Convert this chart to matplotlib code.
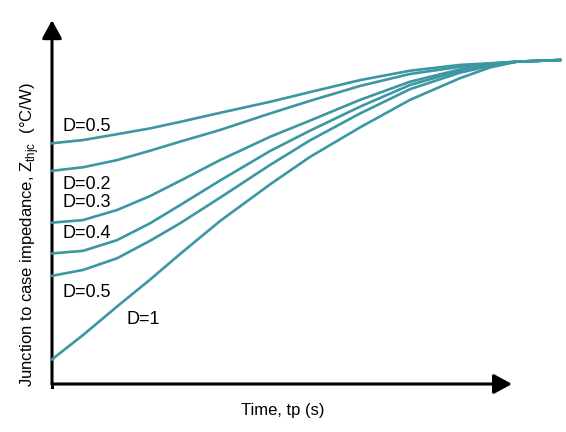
import matplotlib
matplotlib.use("Agg")
import matplotlib.pyplot as plt
from matplotlib.patches import FancyArrowPatch

plt.rcParams['font.family'] = ['Liberation Sans Narrow', 'Liberation Sans', 'DejaVu Sans']
plt.rcParams['mathtext.fontset'] = 'custom'
plt.rcParams['mathtext.rm'] = 'Liberation Sans'

# time axis (arbitrary units)
t = [0, 0.62, 1.3, 1.96, 2.56, 3.36, 4.36, 5.16, 6.16, 7.16, 8.16, 8.76, 9.3, 10.16]

# thermal impedance, % of the steady-state value
z_d05_top = [74.3, 75.3, 77.1, 78.9, 80.9, 83.7, 87.1, 90.1, 93.8, 96.7, 98.5, 99.0, 99.5, 100]
z_d02 = [65.8, 66.9, 69.1, 72.0, 74.8, 78.4, 83.5, 87.4, 92.0, 95.7, 97.9, 98.9, 99.5, 100]
z_d03 = [49.8, 50.6, 53.7, 58.0, 62.7, 69.1, 76.3, 81.3, 87.7, 93.3, 97.1, 98.7, 99.5, 100]
z_d04 = [40.3, 41.1, 44.4, 49.6, 55.2, 62.8, 71.9, 78.2, 85.6, 92.3, 96.7, 98.5, 99.5, 100]
z_d05_low = [33.4, 35.2, 38.8, 44.2, 49.6, 57.5, 67.6, 75.2, 83.5, 91.0, 96.1, 98.2, 99.5, 100]
z_d1 = [7.6, 15.1, 23.9, 32.2, 40.1, 50.3, 61.6, 70.1, 79.2, 87.7, 94.4, 97.7, 99.5, 100]

curves = [z_d05_top, z_d02, z_d03, z_d04, z_d05_low, z_d1]

labels = ["D=0.5", "D=0.2", "D=0.3", "D=0.4", "D=0.5", "D=1"]
label_x = [0.2, 0.2, 0.2, 0.2, 0.2, 1.5]
label_y = [79.6, 61.7, 55.9, 46.6, 28.1, 19.8]

color = '#3c97a3'

fig = plt.figure(figsize=(5.66, 4.32), dpi=100)
ax = fig.add_axes([52 / 566, 48 / 432, 514 / 566, 369 / 432])
ax.set_xlim(0, 10.28)
ax.set_ylim(0, 113.9)
ax.axis('off')

for z in curves:
    ax.plot(t, z, color=color, lw=1.9, solid_joinstyle='round', clip_on=False)

for lab, x, y in zip(labels, label_x, label_y):
    ax.text(x, y, lab, fontsize=13, va='center', ha='left', color='black')

# axes with arrow heads
for end in [(9.2, 0), (0, 112.3)]:
    arr = FancyArrowPatch((0, 0), end, arrowstyle='-|>,head_length=0.55,head_width=0.3',
                          mutation_scale=20, lw=2.2, color='black',
                          shrinkA=0, shrinkB=0, clip_on=False)
    ax.add_patch(arr)
ax.plot([0, 0], [-0.8, 0], color='black', lw=2.2, clip_on=False)

ax.text(-0.043, 0.404, r'Junction to case impedance, Z$_{\mathrm{thjc}}$  (°C/W)',
        transform=ax.transAxes, rotation=90, fontsize=12, ha='center', va='center')
ax.text((283 - 52) / 514, (384 - 411) / 369, 'Time, tp (s)', transform=ax.transAxes,
        fontsize=12, ha='center', va='center')

fig.savefig('out.png', dpi=100)
